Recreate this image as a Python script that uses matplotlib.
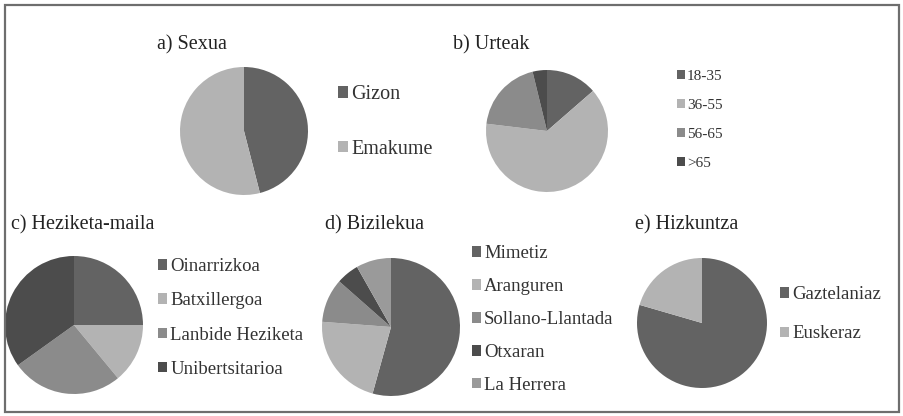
import matplotlib.pyplot as plt
from matplotlib.patches import Rectangle

plt.rcParams['font.family'] = ['Liberation Serif', 'DejaVu Serif']

W, H = 904, 416

sexua_labels = ['Gizon', 'Emakume']
sexua_values = [46, 54]

urteak_labels = ['18-35', '36-55', '56-65', '>65']
urteak_values = [13.6, 63.3, 19.3, 3.8]

heziketa_labels = ['Oinarrizkoa', 'Batxillergoa', 'Lanbide Heziketa', 'Unibertsitarioa']
heziketa_values = [25.0, 14.0, 26.1, 34.9]

bizilekua_labels = ['Mimetiz', 'Aranguren', 'Sollano-Llantada', 'Otxaran', 'La Herrera']
bizilekua_values = [54.3, 21.9, 10.3, 5.3, 8.2]

hizkuntza_labels = ['Gaztelaniaz', 'Euskeraz']
hizkuntza_values = [79.5, 20.5]

dark = '#636363'
light = '#b3b3b3'
mid = '#8b8b8b'
darker = '#4c4c4c'
mid2 = '#9a9a9a'

fig = plt.figure(figsize=(W / 100, H / 100), dpi=100)
fig.patch.set_facecolor('white')
fig.patches.append(Rectangle((5 / W, 4 / H), 894 / W, 407 / H, transform=fig.transFigure,
                             fill=False, edgecolor='#6e6e6e', linewidth=1.6))


def pie(values, labels, colors, cx, cy, r, title, tx, ty, ha, lx, ly, fs, spacing):
    ax = fig.add_axes([(cx - r) / W, (H - cy - r) / H, 2 * r / W, 2 * r / H])
    wedges, _ = ax.pie(values, colors=colors, startangle=90, counterclock=False,
                       wedgeprops=dict(linewidth=0))
    ax.set_xlim(-1, 1)
    ax.set_ylim(-1, 1)
    fig.text(tx / W, 1 - ty / H, title, ha=ha, va='center', fontsize=14.5, color='#222222')
    fig.legend(wedges, labels, loc='upper left', bbox_to_anchor=(lx / W, 1 - ly / H),
               bbox_transform=fig.transFigure, frameon=False, fontsize=fs,
               handlelength=0.5, handleheight=0.5, handletextpad=0.15,
               labelspacing=spacing, borderpad=0, borderaxespad=0,
               labelcolor='#333333')


pie(sexua_values, sexua_labels, [dark, light], 244, 131, 64,
    'a) Sexua', 192, 45, 'center', 338, 85, 14.5, 1.78)
pie(urteak_values, urteak_labels, [dark, light, mid, darker], 547, 131, 61,
    'b) Urteak', 453, 45, 'left', 677, 70, 11, 1.05)
pie(heziketa_values, heziketa_labels, [dark, light, mid, darker], 74, 325, 69,
    'c) Heziketa-maila', 11, 225, 'left', 158, 258, 13.5, 0.92)
pie(bizilekua_values, bizilekua_labels, [dark, light, mid, darker, mid2], 391, 327, 69,
    'd) Bizilekua', 325, 225, 'left', 472, 245, 13.5, 0.85)
pie(hizkuntza_values, hizkuntza_labels, [dark, light], 702, 323, 65,
    'e) Hizkuntza', 635, 225, 'left', 780, 286, 13.5, 1.2)

fig.savefig('out.png', dpi=100)
